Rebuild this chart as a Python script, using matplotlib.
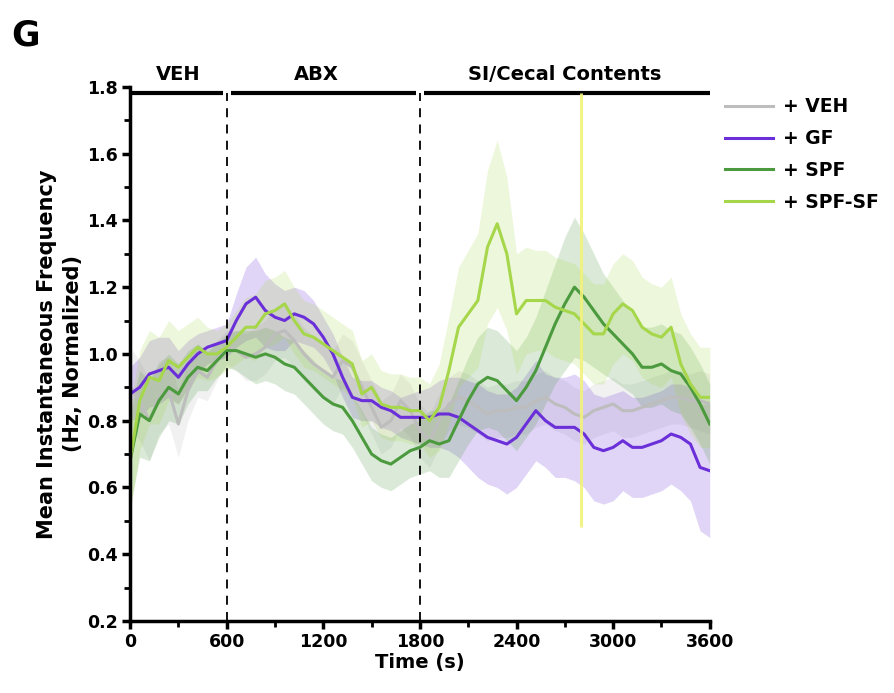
"""Mean instantaneous frequency (normalized) across treatment phases, panel G."""
import matplotlib
matplotlib.use("Agg")
import matplotlib.pyplot as plt
import numpy as np
from matplotlib.ticker import MultipleLocator

plt.rcParams["font.family"] = ["DejaVu Sans"]
plt.rcParams["font.weight"] = "bold"

# time grid (s)
time_s = list(range(0, 3601, 60))

veh_mean = [0.90, 0.86, 0.80, 0.87, 0.89, 0.79, 0.89, 0.95, 0.93, 0.98,
            1.02, 1.01, 0.99, 1.00, 1.02, 1.06, 1.07, 1.04, 1.00, 0.97,
            0.95, 0.93, 0.98, 0.96, 0.90, 0.84, 0.78, 0.80, 0.86, 0.83,
            0.77, 0.74, 0.80, 0.85, 0.87, 0.86, 0.84, 0.82, 0.83, 0.83,
            0.84, 0.84, 0.86, 0.87, 0.85, 0.84, 0.82, 0.81, 0.83, 0.84,
            0.85, 0.83, 0.83, 0.84, 0.85, 0.86, 0.87, 0.87, 0.86, 0.86,
            0.85]
veh_sem = [0.12, 0.12, 0.12, 0.11, 0.10, 0.10, 0.09, 0.08, 0.07, 0.06,
           0.05, 0.06, 0.07, 0.08, 0.08, 0.08, 0.08, 0.08, 0.08, 0.08,
           0.08, 0.08, 0.08, 0.08, 0.08, 0.08, 0.08, 0.08, 0.08, 0.08,
           0.08, 0.08, 0.08, 0.08, 0.08, 0.08, 0.08, 0.08, 0.08, 0.08,
           0.08, 0.08, 0.08, 0.08, 0.08, 0.08, 0.08, 0.08, 0.08, 0.08,
           0.08, 0.08, 0.08, 0.08, 0.08, 0.08, 0.08, 0.08, 0.08, 0.09,
           0.09]

gf_mean = [0.88, 0.90, 0.94, 0.95, 0.96, 0.93, 0.97, 1.00, 1.02, 1.03,
           1.04, 1.10, 1.15, 1.17, 1.13, 1.11, 1.10, 1.12, 1.11, 1.09,
           1.05, 1.00, 0.93, 0.87, 0.86, 0.86, 0.84, 0.83, 0.81, 0.81,
           0.81, 0.81, 0.82, 0.82, 0.81, 0.79, 0.77, 0.75, 0.74, 0.73,
           0.75, 0.79, 0.83, 0.80, 0.78, 0.78, 0.78, 0.76, 0.72, 0.71,
           0.72, 0.74, 0.72, 0.72, 0.73, 0.74, 0.76, 0.75, 0.73, 0.66,
           0.65]
gf_sem = [0.08, 0.09, 0.10, 0.10, 0.09, 0.08, 0.07, 0.06, 0.05, 0.05,
          0.05, 0.08, 0.11, 0.12, 0.11, 0.10, 0.09, 0.08, 0.08, 0.07,
          0.06, 0.06, 0.06, 0.06, 0.06, 0.06, 0.06, 0.06, 0.06, 0.07,
          0.08, 0.09, 0.10, 0.11, 0.12, 0.13, 0.14, 0.14, 0.14, 0.15,
          0.15, 0.15, 0.15, 0.14, 0.15, 0.15, 0.16, 0.16, 0.16, 0.16,
          0.16, 0.15, 0.15, 0.15, 0.15, 0.15, 0.15, 0.16, 0.17, 0.19,
          0.20]

spf_mean = [0.68, 0.82, 0.80, 0.86, 0.90, 0.88, 0.93, 0.96, 0.95, 0.98,
            1.01, 1.01, 1.00, 0.99, 1.00, 0.99, 0.97, 0.96, 0.93, 0.90,
            0.87, 0.85, 0.84, 0.80, 0.75, 0.70, 0.68, 0.67, 0.69, 0.71,
            0.72, 0.74, 0.73, 0.74, 0.80, 0.86, 0.91, 0.93, 0.92, 0.89,
            0.86, 0.90, 0.95, 1.02, 1.09, 1.15, 1.20, 1.17, 1.13, 1.09,
            1.06, 1.03, 1.00, 0.96, 0.96, 0.97, 0.95, 0.94, 0.90, 0.85,
            0.79]
spf_sem = [0.14, 0.13, 0.12, 0.11, 0.10, 0.09, 0.08, 0.07, 0.06, 0.05,
           0.05, 0.06, 0.07, 0.08, 0.08, 0.08, 0.08, 0.08, 0.08, 0.08,
           0.08, 0.08, 0.08, 0.08, 0.08, 0.08, 0.08, 0.08, 0.08, 0.08,
           0.08, 0.09, 0.10, 0.11, 0.12, 0.13, 0.14, 0.15, 0.15, 0.15,
           0.15, 0.15, 0.16, 0.17, 0.18, 0.20, 0.21, 0.19, 0.17, 0.15,
           0.14, 0.13, 0.12, 0.12, 0.12, 0.12, 0.12, 0.12, 0.12, 0.12,
           0.12]

spfsf_mean = [0.68, 0.86, 0.93, 0.92, 0.98, 0.96, 0.99, 1.02, 1.00, 1.00,
              1.02, 1.05, 1.08, 1.08, 1.12, 1.13, 1.15, 1.10, 1.06, 1.05,
              1.03, 1.01, 0.99, 0.97, 0.88, 0.90, 0.85, 0.84, 0.84, 0.83,
              0.83, 0.80, 0.84, 0.95, 1.08, 1.12, 1.16, 1.32, 1.39, 1.30,
              1.12, 1.16, 1.16, 1.16, 1.14, 1.13, 1.12, 1.09, 1.06, 1.06,
              1.12, 1.15, 1.13, 1.08, 1.06, 1.05, 1.08, 0.97, 0.91, 0.87,
              0.87]
spfsf_sem = [0.16, 0.15, 0.14, 0.13, 0.12, 0.11, 0.10, 0.09, 0.08, 0.07,
             0.07, 0.08, 0.09, 0.10, 0.10, 0.10, 0.10, 0.10, 0.10, 0.10,
             0.10, 0.10, 0.10, 0.10, 0.10, 0.10, 0.10, 0.10, 0.10, 0.10,
             0.10, 0.11, 0.13, 0.16, 0.18, 0.19, 0.20, 0.23, 0.25, 0.23,
             0.18, 0.16, 0.15, 0.15, 0.15, 0.15, 0.15, 0.15, 0.15, 0.15,
             0.15, 0.15, 0.15, 0.15, 0.15, 0.15, 0.15, 0.15, 0.15, 0.15,
             0.15]

groups = ["+ VEH", "+ GF", "+ SPF", "+ SPF-SF"]
means = [veh_mean, gf_mean, spf_mean, spfsf_mean]
sems = [veh_sem, gf_sem, spf_sem, spfsf_sem]
colors = ["#bdbdbd", "#6a2fd8", "#4b9a3d", "#a6d74b"]

phase_names = ["VEH", "ABX", "SI/Cecal Contents"]
phase_bounds = [0, 600, 1800, 3600]
phase_label_x = [300, 1160, 2700]
marker_time = 2800  # yellow reference line

fig = plt.figure(figsize=(8.95, 6.93), dpi=100)
ax = fig.add_axes([0.1453, 0.104, 0.6477, 0.7706])

t = np.array(time_s)
for name, m, s, c in zip(groups, means, sems, colors):
    m = np.array(m)
    s = np.array(s)
    ax.fill_between(t, m - s, m + s, color=c, alpha=0.2, lw=0)
for name, m, c in zip(groups, means, colors):
    ax.plot(t, m, color=c, lw=2.2, label=name)

# phase dividers and bar
bar_y = 1.782
for b in phase_bounds[1:-1]:
    ax.vlines(b, 0.2, bar_y, colors="black", linestyles=(0, (5, 4)), lw=1.3)
for i, name in enumerate(phase_names):
    x0 = phase_bounds[i] + (0 if i == 0 else 25)
    x1 = phase_bounds[i + 1] - (0 if i == len(phase_names) - 1 else 25)
    ax.hlines(bar_y, x0, x1, colors="black", lw=3, clip_on=False)
    ax.text(phase_label_x[i], 1.81, name,
            ha="center", va="bottom", fontsize=14, fontweight="bold")

ax.vlines(marker_time, 0.48, bar_y, colors="#f2f27a", lw=2.2, alpha=0.9)

ax.set_xlim(0, 3600)
ax.set_ylim(0.2, 1.8)
ax.xaxis.set_major_locator(MultipleLocator(600))
ax.xaxis.set_minor_locator(MultipleLocator(300))
ax.yaxis.set_major_locator(MultipleLocator(0.2))
ax.yaxis.set_minor_locator(MultipleLocator(0.1))
ax.yaxis.set_major_formatter(plt.FuncFormatter(lambda v, p: f"{v:.1f}"))

for side in ("top", "right"):
    ax.spines[side].set_visible(False)
for side in ("left", "bottom"):
    ax.spines[side].set_linewidth(2.5)
ax.tick_params(which="major", direction="out", length=6, width=2.5,
               labelsize=12.5, pad=3)
ax.tick_params(which="minor", direction="out", length=4, width=2)
for lab in ax.get_xticklabels() + ax.get_yticklabels():
    lab.set_fontweight("bold")

ax.set_xlabel("Time (s)", fontsize=14, fontweight="bold", labelpad=1)
ax.set_ylabel("Mean Instantaneous Frequency\n(Hz, Normalized)",
              fontsize=15, fontweight="bold", labelpad=3, linespacing=1.35)

leg = ax.legend(loc="upper left", bbox_to_anchor=(1.003, 1.005), frameon=False,
                fontsize=13.5, handlelength=2.6, handletextpad=0.5,
                labelspacing=0.68, borderaxespad=0.3)
for txt in leg.get_texts():
    txt.set_fontweight("bold")

fig.text(0.013, 0.935, "G", fontsize=25, fontweight="bold")

fig.savefig("out.png", dpi=100)
